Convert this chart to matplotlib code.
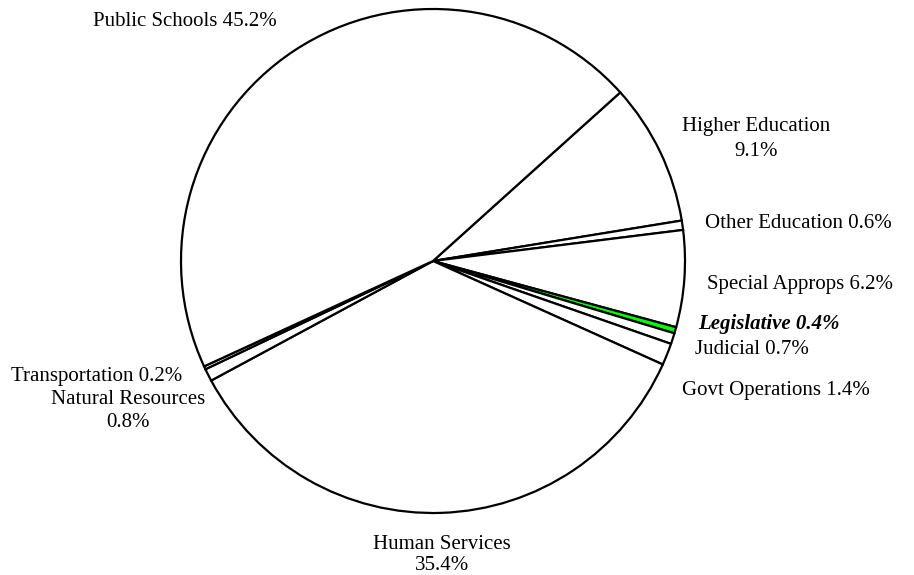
import matplotlib
matplotlib.use("Agg")
import matplotlib.pyplot as plt

# budget shares, clockwise from the upper right
names = ["Higher Education", "Other Education", "Special Approps", "Legislative",
         "Judicial", "Govt Operations", "Human Services", "Natural Resources",
         "Transportation", "Public Schools"]
shares = [9.1, 0.6, 6.2, 0.4, 0.7, 1.4, 35.4, 0.8, 0.2, 45.2]
colors = ["white"] * len(names)
colors[names.index("Legislative")] = "#00ff00"

W, H = 914, 575
fig = plt.figure(figsize=(W / 100, H / 100), dpi=100)
ax = fig.add_axes([0, 0, 1, 1])

cx, cy, r = 433, H - 261, 252
ax.pie(shares, colors=colors, startangle=42, counterclock=False,
       center=(cx, cy), radius=r, frame=True,
       wedgeprops=dict(edgecolor="black", linewidth=1.6))
ax.set_xlim(0, W)
ax.set_ylim(0, H)
ax.set_aspect("equal")
ax.axis("off")

plt.rcParams["font.family"] = ["Liberation Serif", "DejaVu Serif"]
fs = 15

# label placement in pixel coordinates (x, y from top, alignment, line spacing)
label_pos = {
    "Public Schools": (93, 22, "left", 1.2),
    "Higher Education": (756, 139, "center", 1.4),
    "Other Education": (705, 224, "left", 1.2),
    "Special Approps": (707, 285, "left", 1.2),
    "Legislative": (698, 324, "left", 1.2),
    "Judicial": (695, 350, "left", 1.2),
    "Govt Operations": (682, 390, "left", 1.2),
    "Human Services": (442, 555, "center", 1.2),
    "Natural Resources": (128, 411, "center", 1.35),
    "Transportation": (11, 377, "left", 1.2),
}
two_line = {"Higher Education", "Human Services", "Natural Resources"}

for name, val in zip(names, shares):
    x, y, ha, ls = label_pos[name]
    sep = "\n" if name in two_line else " "
    txt = f"{name}{sep}{val:.1f}%"
    kw = {}
    if name == "Legislative":
        kw = dict(fontweight="bold", fontstyle="italic")
    ax.text(x, H - y, txt, ha=ha, va="center", fontsize=fs,
            multialignment="center", linespacing=ls, **kw)

fig.savefig("out.png", dpi=100, facecolor="white")
